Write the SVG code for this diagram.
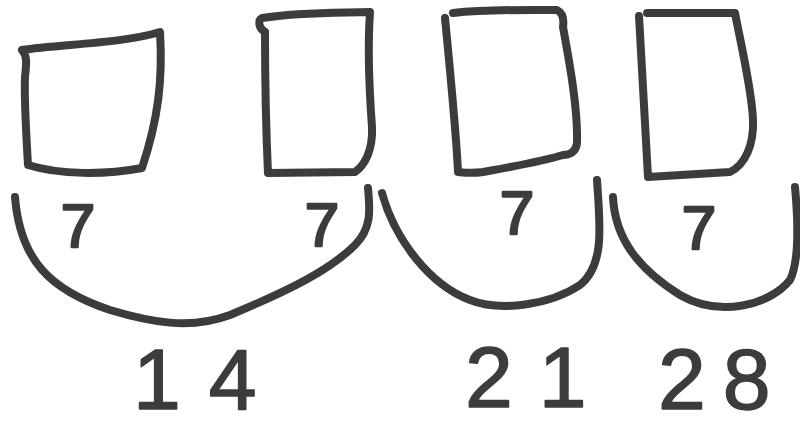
<svg xmlns="http://www.w3.org/2000/svg" width="800" height="428" viewBox="0 0 800 428">
<style>
.s{fill:none;stroke:#3c3c3c;stroke-width:8;stroke-linecap:round;stroke-linejoin:round}
.t{font-family:"Liberation Sans",Arial,sans-serif;fill:#3c3c3c;stroke:#3c3c3c;stroke-linejoin:round}
.seven{font-size:62px;text-anchor:middle;stroke-width:2.5}
.sum{font-size:86px;stroke-width:1.5}
</style>
<rect width="800" height="428" fill="#ffffff"/>
<g id="box1"><path class="s" d="M22,50 C60,44 120,44 160,32 C163,80 158,120 142,168 C105,175 60,175 28,165 C26,130 24,100 25,77 C26,65 28,57 22,50"/></g>
<g id="box2"><path class="s" d="M265,32 C258,28 258,20 262,18 C300,12 335,13 370,12 C367,55 370,100 372,127 C373,150 365,165 355,172 L268,173 C266,130 265,80 265,32"/></g>
<g id="box3"><path class="s" d="M453,13 C490,9 530,10 557,10 C563,13 564,20 563,27 C570,65 578,110 577,143 C576,152 570,155 563,155 C540,162 505,168 483,172 C470,174 460,172 458,172 C456,130 450,70 445,18"/></g>
<g id="box4"><path class="s" d="M647,13 L735,13 C740,40 752,90 753,120 C754,145 745,165 730,172 L648,177 L639,16"/></g>
<g id="connectors">
<path class="s" d="M15,197 C20,260 50,290 110,310 C150,322 190,330 230,315 C290,290 330,270 355,245 C372,228 370,210 368,188"/>
<path class="s" d="M382,193 C395,240 430,285 470,300 C500,312 550,305 580,285 C605,265 600,225 597,180"/>
<path class="s" d="M613,197 C615,240 640,270 680,295 C720,318 770,305 790,280 C800,260 798,220 795,187"/>
</g>
<g id="labels">
<text class="t seven" x="78" y="247">7</text>
<text class="t seven" x="322" y="246">7</text>
<text class="t seven" x="517" y="234">7</text>
<text class="t seven" x="699" y="249">7</text>
<text class="t sum" x="133" y="409" font-size="84" letter-spacing="28">14</text>
<text class="t sum" x="465" y="407" letter-spacing="26">21</text>
<text class="t sum" x="658" y="409" letter-spacing="17">28</text>
</g>
</svg>
